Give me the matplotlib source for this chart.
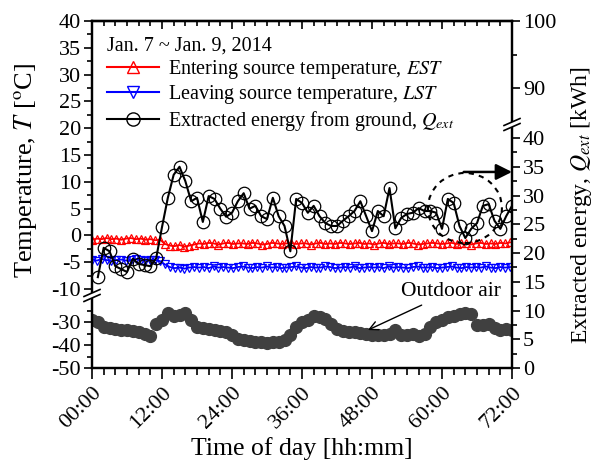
import numpy as np
import matplotlib.pyplot as plt
from matplotlib.patches import Ellipse, Polygon
from matplotlib.lines import Line2D
from matplotlib.ticker import FixedLocator

plt.rcParams['font.family'] = ['Liberation Serif', 'DejaVu Serif']
plt.rcParams['mathtext.fontset'] = 'stix'

# extracted energy from ground, hourly (kWh), right axis
q_hours = list(range(1, 73))
q_ext = [15.8, 20.9, 20.3, 17.7, 17.2, 16.7, 19.0, 18.1, 17.9, 17.7,
         19.1, 24.5, 29.6, 33.6, 35.0, 32.5, 29.0, 29.6, 25.4, 29.9,
         29.4, 27.7, 26.3, 27.0, 29.0, 30.4, 27.7, 28.2, 26.4, 25.9,
         29.6, 26.4, 24.7, 20.3, 29.4, 28.7, 27.0, 28.2, 26.4, 25.2,
         24.7, 24.7, 25.6, 26.4, 27.3, 29.0, 26.4, 23.8, 27.3, 26.4,
         31.3, 24.3, 26.1, 26.8, 27.0, 27.8, 27.3, 27.3, 27.0, 24.2,
         29.4, 28.7, 24.7, 22.6, 24.2, 25.2, 28.2, 28.5, 25.6, 24.2,
         26.4, 28.2]

# outdoor air temperature, hourly (C)
oa_hours = list(range(0, 73))
t_outdoor = [-29.0, -30.0, -32.0, -32.8, -33.2, -33.3, -33.5, -33.8, -34.2, -35.0,
             -36.0, -31.0, -29.0, -26.0, -27.5, -27.0, -26.0, -29.0, -32.0, -32.6,
             -33.0, -33.6, -34.0, -34.5, -35.6, -37.6, -38.0, -38.4, -38.6, -38.8,
             -39.0, -38.8, -38.6, -38.0, -35.5, -32.0, -30.0, -29.0, -27.6, -27.8,
             -28.6, -31.0, -33.2, -34.0, -34.2, -34.4, -34.6, -35.0, -35.5, -35.7,
             -35.7, -35.0, -33.5, -35.5, -35.7, -35.0, -36.2, -35.0, -32.0, -30.0,
             -29.0, -28.0, -27.4, -26.5, -25.9, -26.5, -31.5, -31.3, -31.0, -32.5,
             -33.5, -33.0, -33.5]

# entering / leaving source temperature, every 50 min (C)
st_hours = np.arange(87) * 5 / 6
est = [-0.8, -0.6, -0.7, -0.5, -0.7, -0.6, -0.8, -0.6, -0.5, -0.7, -0.6, -0.8, -0.7, -0.9, -0.8,
       -1.6, -1.9, -2.0, -1.8, -2.1, -1.9, -1.7,
       -1.5, -1.6, -1.4, -1.5, -1.7, -1.5, -1.4, -1.6, -1.5, -1.5,
       -1.6, -1.4, -1.5, -1.7, -1.6, -1.4, -1.5, -1.6, -1.5, -1.4,
       -1.6, -1.5, -1.5, -1.7, -1.5, -1.4, -1.6, -1.5, -1.6, -1.4,
       -1.5, -1.6, -1.5, -1.4, -1.6, -1.5, -1.7, -1.5, -1.4, -1.6,
       -1.5, -1.5, -1.6, -1.4, -1.5, -1.7, -1.6, -1.5, -1.4, -1.5,
       -1.6, -1.5, -1.4, -1.6, -1.5, -1.5, -1.7, -1.5, -1.4, -1.6,
       -1.5, -1.6, -1.4, -1.5, -1.3]
lst = [-4.5, -4.7, -4.4, -4.6, -4.8, -4.6, -4.5, -4.7, -4.6, -4.4, -4.6, -4.7, -4.5, -4.6, -4.8,
       -5.4, -5.9, -6.1, -6.0, -6.2, -6.0, -5.9,
       -6.0, -5.9, -6.1, -5.8, -6.0, -5.9, -6.0, -6.1, -5.9, -5.8,
       -6.0, -6.1, -5.9, -6.0, -5.8, -6.0, -5.9, -6.1, -6.0, -5.9,
       -5.8, -6.0, -6.1, -5.9, -6.0, -6.0, -5.8, -5.9, -6.1, -6.0,
       -5.9, -6.0, -5.8, -6.1, -6.0, -5.9, -6.0, -5.9, -6.1, -5.8,
       -6.0, -5.9, -6.0, -6.1, -5.9, -5.8, -6.0, -6.0, -5.9, -6.1,
       -6.0, -5.9, -5.8, -6.0, -6.1, -5.9, -6.0, -5.9, -6.0, -5.8,
       -6.0, -6.1, -5.9, -6.0, -5.9]

xtick_pos = [0, 12, 24, 36, 48, 60, 72]
xtick_lab = ['00:00', '12:00', '24:00', '36:00', '48:00', '60:00', '72:00']


def broken_scale(vals, pos):
    # piecewise linear axis with a squeezed gap (axis break)
    def fwd(v):
        return np.interp(v, vals, pos)

    def inv(u):
        return np.interp(u, pos, vals)
    return fwd, inv


fig = plt.figure(figsize=(6.01, 4.65), dpi=100)
ax = fig.add_axes([92 / 601, 1 - 368 / 465, 420 / 601, 347 / 465])
ax2 = ax.twinx()

ax.set_yscale('function', functions=broken_scale(
    [-1050, -50, -20, -10, 40, 1040], [-2300, 0, 69, 79, 347, 5707]))
ax2.set_yscale('function', functions=broken_scale(
    [-1000, 0, 42, 85, 100, 1100], [-5750, 0, 241.5, 246.5, 347, 7047]))

ax.plot(oa_hours, t_outdoor, 'o', color='#404040', ms=8.5, mec='#404040', zorder=2)
ax.plot(st_hours, est, '-^', color='red', lw=1.3, ms=5.5, mfc='none', mew=0.9, zorder=3)
ax.plot(st_hours, lst, '-v', color='blue', lw=1.3, ms=5.5, mfc='none', mew=0.9, zorder=3)
ax2.plot(q_hours, q_ext, '-o', color='black', lw=1.5, ms=9, mfc='none', mew=0.9, zorder=4)

ax.set_xlim(0, 72)
ax.set_ylim(-50, 40)
ax2.set_ylim(0, 100)

ax.set_xticks(xtick_pos)
ax.set_xticklabels(xtick_lab, rotation=45, ha='right', va='top', rotation_mode='anchor')
ax.xaxis.set_minor_locator(FixedLocator(np.arange(0, 73, 2)))

ax.yaxis.set_major_locator(FixedLocator([-50, -40, -30, -10, -5, 0, 5, 10, 15, 20, 25, 30, 35, 40]))
ax.yaxis.set_minor_locator(FixedLocator([-45, -35, -25] + list(np.arange(-7.5, 40, 5))))
ax2.yaxis.set_major_locator(FixedLocator([0, 5, 10, 15, 20, 25, 30, 35, 40, 90, 100]))
ax2.yaxis.set_minor_locator(FixedLocator(list(np.arange(2.5, 40, 5)) + [95]))
ax.yaxis.set_major_formatter(lambda v, p: f'{v:g}')
ax2.yaxis.set_major_formatter(lambda v, p: f'{v:g}')

for a in (ax, ax2):
    for s in a.spines.values():
        s.set_linewidth(1.6)
ax.tick_params(which='both', direction='out', width=1.2, labelsize=16)
ax.tick_params(axis='y', which='major', length=6, pad=2)
ax.tick_params(axis='y', which='minor', length=3.5)
ax.tick_params(axis='x', which='major', length=8, pad=3)
ax.tick_params(axis='x', which='minor', length=5)
ax2.tick_params(which='both', direction='out', width=1.2, labelsize=16)
ax2.tick_params(which='major', length=6, pad=2)
ax2.tick_params(which='minor', length=3.5)

top = ax.secondary_xaxis('top')
top.set_xticks(xtick_pos)
top.set_xticklabels([])
top.xaxis.set_minor_locator(FixedLocator(np.arange(0, 73, 2)))
top.tick_params(which='both', direction='in', width=1.2)
top.tick_params(which='major', length=6)
top.tick_params(which='minor', length=3.5)
top.spines['top'].set_linewidth(1.6)

ax.set_xlabel('Time of day [hh:mm]', fontsize=18.5)
ax.xaxis.set_label_coords(0.5, -0.2)
ax.set_ylabel('Temperature, $T$ [$^{\\mathrm{o}}$C]', fontsize=19)
ax.yaxis.set_label_coords(-0.125, 0.57)
ax2.set_ylabel('Extracted energy, $Q_{ext}$ [kWh]', fontsize=17)
ax2.yaxis.set_label_coords(1.135, 0.47)


# axis break marks, given in pixel offsets from the axes corner
def brk(axis, x0, u0):
    W, H = 420.0, 347.0
    dx, dy, gap = 8.0, 3.5, 5.0
    p1 = [((x0 - dx) / W, (u0 - dy) / H), ((x0 + dx) / W, (u0 + dy) / H)]
    p2 = [((x0 - dx) / W, (u0 - dy + gap) / H), ((x0 + dx) / W, (u0 + dy + gap) / H)]
    axis.add_patch(Polygon([p1[0], p1[1], p2[1], p2[0]], closed=True, fc='white', ec='none',
                           transform=axis.transAxes, clip_on=False, zorder=10))
    for p in (p1, p2):
        axis.add_line(Line2D([p[0][0], p[1][0]], [p[0][1], p[1][1]], color='black', lw=1.2,
                             transform=axis.transAxes, clip_on=False, zorder=11))


brk(ax2, 0, 70)
brk(ax2, 420, 241)

# legend
handles = [Line2D([], [], color='red', marker='^', ms=8, mfc='none', lw=1.5),
           Line2D([], [], color='blue', marker='v', ms=8, mfc='none', lw=1.5),
           Line2D([], [], color='black', marker='o', ms=9.5, mfc='none', lw=1.5)]
labels = ['Entering source temperature, $EST$',
          'Leaving source temperature, $LST$',
          'Extracted energy from ground, $Q_{ext}$']
leg = ax2.legend(handles, labels, loc='upper left', bbox_to_anchor=(-0.008, 1.008), frameon=False,
                 fontsize=14.5, title='Jan. 7 ~ Jan. 9, 2014', title_fontsize=14.5, alignment='left',
                 handlelength=2.6, handletextpad=0.45, labelspacing=0.12, numpoints=1)

# annotations
ax.annotate('Outdoor air', xy=(47.3, -33.5), xycoords='data',
            xytext=(0.735, 0.22), textcoords='axes fraction', fontsize=15.5,
            ha='left', va='center',
            arrowprops=dict(arrowstyle='->', color='black', lw=1.0, shrinkA=2, shrinkB=0))
ax2.add_patch(Ellipse((0.888, 0.461), 0.176, 0.202, transform=ax2.transAxes, fill=False,
                      ec='black', ls=(0, (2.5, 2.5)), lw=1.5, zorder=6))
ax2.annotate('', xy=(1.0, 0.565), xytext=(0.885, 0.565), xycoords='axes fraction',
             arrowprops=dict(arrowstyle='-|>', color='black', lw=1.8, mutation_scale=24,
                             shrinkA=0, shrinkB=0))

fig.savefig('out.png', dpi=100)
